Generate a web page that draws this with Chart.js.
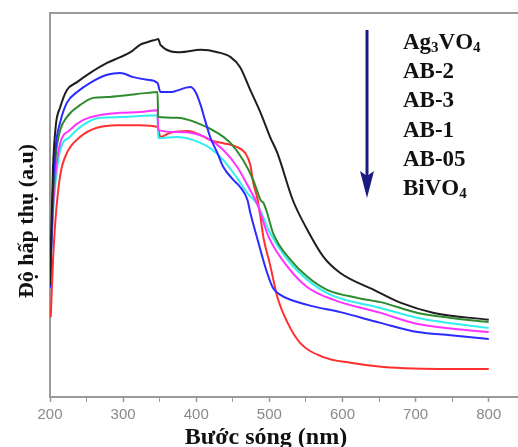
<!DOCTYPE html>
<html lang="vi">
<head>
    <meta charset="UTF-8">
    <title>UV-Vis DRS</title>
    <style>
        body {
            margin: 0;
            padding: 0;
            background-color: white;
        }
        .wrap {
            width: 518px;
            height: 447px;
        }
    </style>
</head>
<body>
    <div class="wrap">
        <canvas id="uvChart" width="518" height="447"></canvas>
    </div>
    <script src="https://cdn.jsdelivr.net/npm/chart.js"></script>
    <script>
        // sample names, top to bottom as in the label list
        const sampleNames = ['Ag3VO4', 'AB-2', 'AB-3', 'AB-1', 'AB-05', 'BiVO4'];

        // wavelength (nm) and absorbance (a.u.)
        const ag3vo4Nm = [200, 204, 208, 214, 223, 237, 255, 278, 296, 310, 323, 333, 344, 348, 351, 378, 406, 429, 447, 460, 474, 488, 501, 511, 532, 552, 574, 597, 643, 680, 725, 800];
        const ag3vo4Abs = [0.292, 0.591, 0.708, 0.755, 0.799, 0.820, 0.844, 0.870, 0.885, 0.898, 0.917, 0.924, 0.930, 0.932, 0.917, 0.898, 0.904, 0.898, 0.885, 0.859, 0.799, 0.740, 0.677, 0.635, 0.513, 0.435, 0.365, 0.323, 0.279, 0.245, 0.219, 0.201];

        const ab2Nm = [200, 204, 208, 214, 223, 237, 255, 278, 296, 314, 333, 347, 351, 364, 392, 399, 406, 412, 419, 429, 437, 451, 460, 470, 474, 484, 497, 505, 515, 552, 597, 652, 703, 748, 800];
        const ab2Abs = [0.284, 0.539, 0.656, 0.716, 0.766, 0.794, 0.818, 0.839, 0.844, 0.833, 0.826, 0.818, 0.794, 0.794, 0.807, 0.794, 0.760, 0.721, 0.677, 0.635, 0.599, 0.565, 0.547, 0.513, 0.479, 0.409, 0.323, 0.284, 0.266, 0.240, 0.221, 0.193, 0.169, 0.161, 0.151];

        const ab3Nm = [200, 204, 208, 214, 223, 241, 259, 278, 305, 333, 347, 348, 374, 401, 429, 447, 464, 478, 488, 492, 497, 505, 529, 552, 579, 621, 652, 703, 748, 800];
        const ab3Abs = [0.297, 0.513, 0.630, 0.695, 0.729, 0.760, 0.779, 0.781, 0.786, 0.792, 0.794, 0.729, 0.727, 0.714, 0.688, 0.661, 0.617, 0.565, 0.513, 0.505, 0.479, 0.427, 0.357, 0.313, 0.279, 0.258, 0.247, 0.219, 0.206, 0.195];

        const ab1Nm = [200, 204, 208, 214, 227, 245, 268, 296, 323, 347, 348, 374, 392, 415, 437, 456, 470, 484, 499, 525, 552, 588, 652, 703, 800];
        const ab1Abs = [0.297, 0.487, 0.591, 0.661, 0.695, 0.721, 0.734, 0.740, 0.742, 0.747, 0.695, 0.690, 0.688, 0.674, 0.643, 0.599, 0.552, 0.500, 0.417, 0.339, 0.286, 0.253, 0.219, 0.190, 0.169];

        const ab05Nm = [200, 204, 208, 214, 227, 245, 268, 296, 323, 347, 348, 374, 396, 419, 437, 456, 470, 484, 501, 525, 552, 584, 652, 703, 800];
        const ab05Abs = [0.297, 0.474, 0.565, 0.643, 0.677, 0.708, 0.727, 0.729, 0.732, 0.734, 0.674, 0.677, 0.669, 0.648, 0.617, 0.570, 0.531, 0.500, 0.427, 0.357, 0.305, 0.266, 0.232, 0.206, 0.180];

        const bivo4Nm = [201, 204, 208, 214, 223, 241, 264, 292, 323, 347, 351, 364, 388, 406, 419, 437, 456, 467, 474, 478, 484, 488, 492, 501, 511, 525, 542, 574, 611, 656, 748, 800];
        const bivo4Abs = [0.208, 0.352, 0.474, 0.578, 0.635, 0.677, 0.701, 0.708, 0.708, 0.703, 0.677, 0.688, 0.693, 0.682, 0.669, 0.661, 0.651, 0.635, 0.604, 0.557, 0.513, 0.466, 0.414, 0.344, 0.260, 0.193, 0.141, 0.104, 0.089, 0.078, 0.073, 0.073];

        // labelled ticks, and the unlabelled minor ticks between them
        const xTickValues = [200, 300, 400, 500, 600, 700, 800];
        const xMinorTicks = [250, 350, 450, 550, 650, 750];

        const seriesNm = [ag3vo4Nm, ab2Nm, ab3Nm, ab1Nm, ab05Nm, bivo4Nm];
        const seriesAbs = [ag3vo4Abs, ab2Abs, ab3Abs, ab1Abs, ab05Abs, bivo4Abs];
        const seriesColors = ['#1e1e1e', '#2b2bff', '#2e8b2e', '#ff33ff', '#33eeee', '#ff3030'];

        const serif = '"Liberation Serif", "Times New Roman", serif';

        function toPoints(xs, ys) {
            return xs.map((x, i) => ({ x: x, y: ys[i] }));
        }

        // text with digits after a letter drawn as subscripts (Ag3VO4 -> Ag₃VO₄)
        function drawChemText(ctx, text, x, y) {
            let cx = x;
            for (let i = 0; i < text.length; i++) {
                const ch = text[i];
                const sub = /[0-9]/.test(ch) && i > 0 && /[A-Za-z]/.test(text[i - 1]);
                ctx.font = sub ? 'bold 15px ' + serif : 'bold 23px ' + serif;
                ctx.fillText(ch, cx, sub ? y + 5 : y);
                cx += ctx.measureText(ch).width;
            }
        }

        const decorations = {
            id: 'decorations',
            afterDraw(chart) {
                const ctx = chart.ctx;
                const area = chart.chartArea;
                ctx.save();

                // top frame line
                ctx.strokeStyle = '#9a9a9a';
                ctx.lineWidth = 2;
                ctx.beginPath();
                ctx.moveTo(area.left - 1, area.top);
                ctx.lineTo(area.right, area.top);
                ctx.stroke();

                // arrow
                ctx.strokeStyle = '#1a1a80';
                ctx.fillStyle = '#1a1a80';
                ctx.lineWidth = 3;
                ctx.beginPath();
                ctx.moveTo(367, 30);
                ctx.lineTo(367, 178);
                ctx.stroke();
                ctx.beginPath();
                ctx.moveTo(360, 171);
                ctx.lineTo(367, 176);
                ctx.lineTo(374, 171);
                ctx.lineTo(367, 198);
                ctx.closePath();
                ctx.fill();

                // sample list
                ctx.fillStyle = '#111';
                ctx.textBaseline = 'middle';
                ctx.textAlign = 'left';
                sampleNames.forEach((name, i) => {
                    drawChemText(ctx, name, 403, 43 + i * 29.2);
                });

                // axis titles
                ctx.textAlign = 'center';
                ctx.textBaseline = 'alphabetic';
                ctx.font = 'bold 24px ' + serif;
                ctx.fillText('Bước sóng (nm)', 266, 444);

                ctx.translate(33, 221);
                ctx.rotate(-Math.PI / 2);
                ctx.font = 'bold 22px ' + serif;
                ctx.fillText('Độ hấp thụ (a.u)', 0, 0);

                ctx.restore();
            }
        };

        const ctx = document.getElementById('uvChart').getContext('2d');
        new Chart(ctx, {
            type: 'line',
            data: {
                datasets: sampleNames.map((name, i) => ({
                    label: name,
                    data: toPoints(seriesNm[i], seriesAbs[i]),
                    borderColor: seriesColors[i],
                    borderWidth: 2,
                    pointRadius: 0,
                    fill: false,
                    cubicInterpolationMode: 'monotone'
                }))
            },
            options: {
                responsive: false,
                devicePixelRatio: 1,
                animation: false,
                layout: {
                    padding: { top: 13, right: 0, left: 0, bottom: 0 }
                },
                scales: {
                    x: {
                        type: 'linear',
                        min: 200,
                        max: 840,
                        afterBuildTicks: (scale) => {
                            scale.ticks = xTickValues.concat(xMinorTicks)
                                .sort((a, b) => a - b)
                                .map(v => ({ value: v }));
                        },
                        afterFit: (scale) => { scale.height = 50; },
                        ticks: {
                            autoSkip: false,
                            maxRotation: 0,
                            padding: 4,
                            color: '#8a8a8a',
                            font: { family: '"Liberation Sans", Arial, sans-serif', size: 15 },
                            callback: (v) => xTickValues.includes(v) ? String(v) : ''
                        },
                        grid: {
                            drawOnChartArea: false,
                            drawTicks: true,
                            tickLength: 5,
                            tickColor: '#9a9a9a',
                            tickWidth: (c) => (c.tick && c.tick.value % 100 === 0) ? 1.5 : 1
                        },
                        border: { display: true, color: '#9a9a9a', width: 2 }
                    },
                    y: {
                        min: 0,
                        max: 1,
                        afterFit: (scale) => { scale.width = 50; },
                        ticks: { display: false },
                        grid: { drawOnChartArea: false, drawTicks: false },
                        border: { display: true, color: '#9a9a9a', width: 2 }
                    }
                },
                plugins: {
                    legend: { display: false },
                    tooltip: { enabled: false }
                }
            },
            plugins: [decorations]
        });
    </script>
</body>
</html>
